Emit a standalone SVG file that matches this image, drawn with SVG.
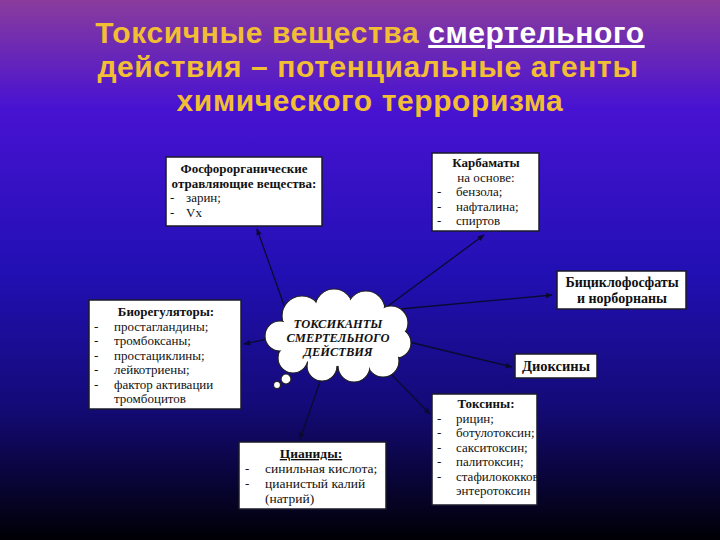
<svg xmlns="http://www.w3.org/2000/svg" width="720" height="540" viewBox="0 0 720 540">
<defs>
<linearGradient id="bg" x1="0" y1="0" x2="0" y2="1">
<stop offset="0" stop-color="#8a3c9c"/>
<stop offset="0.2" stop-color="#4812d2"/>
<stop offset="0.5" stop-color="#2210b4"/>
<stop offset="0.75" stop-color="#140a78"/>
<stop offset="1" stop-color="#000004"/>
</linearGradient>
<marker id="ah" viewBox="0 0 10 10" refX="9" refY="5" markerWidth="7" markerHeight="7" orient="auto" markerUnits="userSpaceOnUse">
<path d="M0,1 L10,5 L0,9 z" fill="#0a0a30"/>
</marker>
<clipPath id="clipTox"><rect x="432" y="394" width="105" height="111"/></clipPath>
<style>
.ttl{font-family:"Liberation Sans",Arial,sans-serif;font-weight:bold;font-size:30px;letter-spacing:0.6px;fill:#f2be34;text-anchor:middle}
.box{fill:#ffffff;stroke:#1a1a2a;stroke-width:1.5}
.t{font-family:"Liberation Serif","Times New Roman",serif;font-size:13px;fill:#111}
.b{font-weight:bold}
.c{text-anchor:middle}
.cl{font-family:"Liberation Serif","Times New Roman",serif;font-size:12.5px;font-weight:bold;font-style:italic;fill:#111;text-anchor:middle}
.con{stroke:#0a0a30;stroke-width:1.3;fill:none;marker-end:url(#ah)}
</style>
</defs>
<rect width="720" height="540" fill="url(#bg)"/>
<g id="title">
<text class="ttl" x="370" y="43">Токсичные вещества <tspan fill="#ffffff" text-decoration="underline">смертельного</tspan></text>
<text class="ttl" x="368" y="77">действия – потенциальные агенты</text>
<text class="ttl" x="370" y="111">химического терроризма</text>
</g>
<g id="connectors">
<line class="con" x1="285" y1="308" x2="257" y2="229"/>
<line class="con" x1="388" y1="306" x2="484" y2="235"/>
<line class="con" x1="400" y1="309" x2="552" y2="295"/>
<line class="con" x1="405" y1="341" x2="512" y2="367"/>
<line class="con" x1="386" y1="369" x2="430" y2="414"/>
<line class="con" x1="322" y1="376" x2="300" y2="439"/>
<line class="con" x1="272" y1="338" x2="244" y2="344"/>
</g>
<g id="n-fos">
<rect class="box" x="166" y="157" width="156" height="69"/>
<text class="t b c" x="244" y="173">Фосфорорганические</text>
<text class="t b c" x="244" y="187.5">отравляющие вещества:</text>
<text class="t" x="170" y="202">-</text><text class="t" x="186" y="202">зарин;</text>
<text class="t" x="170" y="216.5">-</text><text class="t" x="186" y="216.5">Vx</text>
</g>
<g id="n-karb">
<rect class="box" x="432" y="153" width="107" height="78"/>
<text class="t b c" x="486" y="167">Карбаматы</text>
<text class="t c" x="486" y="181.5">на основе:</text>
<text class="t" x="437" y="196">-</text><text class="t" x="456" y="196">бензола;</text>
<text class="t" x="437" y="210.5">-</text><text class="t" x="456" y="210.5">нафталина;</text>
<text class="t" x="437" y="225">-</text><text class="t" x="456" y="225">спиртов</text>
</g>
<g id="n-bicyclo">
<rect class="box" x="557" y="271" width="129" height="38"/>
<text class="t b c" x="622" y="286.5" style="font-size:14px">Бициклофосфаты</text>
<text class="t b c" x="622" y="302.5" style="font-size:14px">и норборнаны</text>
</g>
<g id="n-bioreg">
<rect class="box" x="89" y="300" width="152" height="109"/>
<text class="t b c" x="166" y="316">Биорегуляторы:</text>
<text class="t" x="94" y="330.5">-</text><text class="t" x="114" y="330.5">простагландины;</text>
<text class="t" x="94" y="345">-</text><text class="t" x="114" y="345">тромбоксаны;</text>
<text class="t" x="94" y="359.5">-</text><text class="t" x="114" y="359.5">простациклины;</text>
<text class="t" x="94" y="374">-</text><text class="t" x="114" y="374">лейкотриены;</text>
<text class="t" x="94" y="388.5">-</text><text class="t" x="114" y="388.5">фактор активации</text>
<text class="t" x="114" y="403">тромбоцитов</text>
</g>
<g id="n-cloud">
<g fill="#ffffff" stroke="#222" stroke-width="1.2">
<circle cx="302" cy="316" r="20"/>
<circle cx="334" cy="308" r="19"/>
<circle cx="366" cy="310" r="19"/>
<circle cx="391" cy="323" r="17"/>
<circle cx="396" cy="343" r="15"/>
<circle cx="383" cy="361" r="16"/>
<circle cx="354" cy="366" r="16"/>
<circle cx="322" cy="366" r="15"/>
<circle cx="293" cy="358" r="15"/>
<circle cx="280" cy="336" r="15"/>
<circle cx="286" cy="379" r="5"/>
<circle cx="277" cy="385" r="3.5"/>
</g>
<g fill="#ffffff">
<circle cx="302" cy="316" r="19"/>
<circle cx="334" cy="308" r="18"/>
<circle cx="366" cy="310" r="18"/>
<circle cx="391" cy="323" r="16"/>
<circle cx="396" cy="343" r="14"/>
<circle cx="383" cy="361" r="15"/>
<circle cx="354" cy="366" r="15"/>
<circle cx="322" cy="366" r="14"/>
<circle cx="293" cy="358" r="14"/>
<circle cx="280" cy="336" r="14"/>
<ellipse cx="337" cy="338" rx="55" ry="28"/>
</g>
<text class="cl" x="338" y="328">ТОКСИКАНТЫ</text>
<text class="cl" x="338" y="342">СМЕРТЕЛЬНОГО</text>
<text class="cl" x="338" y="356">ДЕЙСТВИЯ</text>
</g>
<g id="n-diox">
<rect class="box" x="515" y="354" width="82" height="24"/>
<text class="t b c" x="556" y="371" style="font-size:14.5px">Диоксины</text>
</g>
<g id="n-tox">
<rect class="box" x="432" y="394" width="105" height="111"/>
<g clip-path="url(#clipTox)">
<text class="t b c" x="486" y="408">Токсины:</text>
<text class="t" x="437" y="422.5">-</text><text class="t" x="456" y="422.5">рицин;</text>
<text class="t" x="437" y="437">-</text><text class="t" x="456" y="437">ботулотоксин;</text>
<text class="t" x="437" y="451.5">-</text><text class="t" x="456" y="451.5">сакситоксин;</text>
<text class="t" x="437" y="466">-</text><text class="t" x="456" y="466">палитоксин;</text>
<text class="t" x="437" y="480.5">-</text><text class="t" x="456" y="480.5">стафилококковый</text>
<text class="t" x="456" y="495">энтеротоксин</text>
</g>
</g>
<g id="n-cyan">
<rect class="box" x="239" y="442" width="147" height="67"/>
<text class="t b c" x="311" y="458" text-decoration="underline" style="font-size:13.5px">Цианиды:</text>
<text class="t" x="245" y="473">-</text><text class="t" x="265" y="473" style="font-size:13.5px">синильная кислота;</text>
<text class="t" x="245" y="488">-</text><text class="t" x="265" y="488" style="font-size:13.5px">цианистый калий</text>
<text class="t" x="265" y="503" style="font-size:13.5px">(натрий)</text>
</g>
</svg>
